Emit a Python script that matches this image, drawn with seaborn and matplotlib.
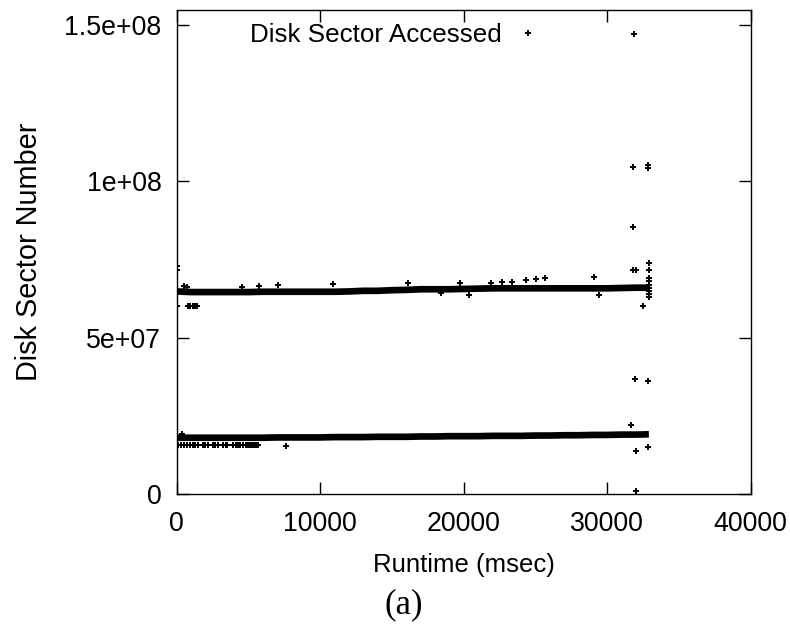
import matplotlib
matplotlib.use("Agg")
import matplotlib.pyplot as plt
from matplotlib.lines import Line2D
import seaborn as sns
import pandas as pd

# ---------------- data (sector numbers in millions) ----------------
band_time = [0, 1000, 2000, 3000, 4000, 5000, 6000, 7000, 8000, 9000, 10000,
             11000, 12000, 13000, 14000, 15000, 16000, 17000, 18000, 19000,
             20000, 21000, 22000, 23000, 24000, 25000, 26000, 27000, 28000,
             29000, 30000, 31000, 32000, 32900]
upper_band = [64.8, 64.6, 64.6, 64.6, 64.6, 64.6, 64.7, 64.7, 64.7, 64.7, 64.7,
              64.7, 64.8, 65.0, 65.0, 65.2, 65.3, 65.5, 65.5, 65.5,
              65.6, 65.7, 65.8, 65.8, 65.8, 65.8, 65.8, 65.8, 65.8,
              65.8, 65.8, 65.9, 66.0, 66.0]
lower_band = [18.0, 18.0, 18.0, 18.0, 18.0, 18.0, 18.0, 18.1, 18.1, 18.1, 18.1,
              18.2, 18.2, 18.2, 18.3, 18.3, 18.3, 18.4, 18.4, 18.5,
              18.5, 18.5, 18.6, 18.6, 18.6, 18.7, 18.7, 18.8, 18.8,
              18.9, 18.9, 19.0, 19.0, 19.1]

scatter_time = [
    # near the upper band
    0, 0, 0, 500, 700, 800, 950, 1100, 1250, 1400,
    4530, 5760, 7040, 10870, 16140, 18420, 19740, 20390, 21900, 22650,
    23350, 24320, 25020, 25670, 29100, 29450, 31820, 31990, 32520,
    32900, 32900, 32900, 32900, 32900, 32900, 32900, 32900, 32900,
    # near the lower band
    350, 100, 300, 500, 700, 900, 1150, 1300, 1450, 1850, 2000, 2150,
    2550, 2700, 2850, 3250, 3400, 3500, 3950, 4100, 4250, 4400,
    4650, 4800, 4950, 5100, 5250, 5400, 5550, 5650, 7600,
    # far outliers
    31870, 31780, 32860, 32860, 31780, 31640, 31940, 32860, 31990,
    32860, 31990,
]
scatter_sector = [
    72.8, 71.8, 60.2, 66.4, 66.2, 60.0, 60.0, 60.0, 60.0, 60.0,
    66.1, 66.6, 66.9, 67.2, 67.4, 64.2, 67.6, 63.7, 67.6, 67.9,
    67.9, 68.5, 68.7, 69.0, 69.3, 63.7, 71.7, 71.7, 60.3,
    74.0, 71.7, 69.0, 68.0, 67.0, 66.0, 65.0, 64.0, 63.0,
    19.3, 15.7, 15.7, 15.7, 15.7, 15.7, 15.7, 15.7, 15.7, 15.7, 15.7, 15.7,
    15.7, 15.7, 15.7, 15.7, 15.7, 15.7, 15.7, 15.7, 15.7, 15.7,
    15.7, 15.7, 15.7, 15.7, 15.7, 15.7, 15.7, 15.7, 15.5,
    147.2, 104.6, 105.3, 104.3, 85.4, 22.1, 36.7, 36.3, 13.8,
    15.1, 1.1,
]

x_ticks = [0, 10000, 20000, 30000, 40000]
y_ticks = [0, 5e7, 1e8, 1.5e8]
y_tick_labels = ["0", "5e+07", "1e+08", "1.5e+08"]

series_label = "Disk Sector Accessed"
x_label = "Runtime (msec)"
y_label = "Disk Sector Number"
caption = "(a)"

# ---------------- plotting ----------------
sns.set_style("ticks")
plt.rcParams["font.family"] = ["Liberation Sans", "DejaVu Sans"]
for key in ["text.color", "axes.labelcolor", "xtick.color", "ytick.color",
            "xtick.labelcolor", "ytick.labelcolor", "axes.edgecolor"]:
    plt.rcParams[key] = "black"

bands = pd.DataFrame({
    "t": band_time,
    "upper": [v * 1e6 for v in upper_band],
    "lower": [v * 1e6 for v in lower_band],
})
pts = pd.DataFrame({"t": scatter_time, "s": [v * 1e6 for v in scatter_sector]})

fig = plt.figure(figsize=(7.9, 6.25), dpi=100)
ax = fig.add_axes([0.2237, 0.2096, 0.7266, 0.7752])

band_lw = 4.8
for col in ["upper", "lower"]:
    sns.lineplot(data=bands, x="t", y=col, ax=ax, color="black",
                 linewidth=band_lw, solid_capstyle="butt", legend=False)

ax.scatter(pts["t"], pts["s"], marker="+", s=4.3 ** 2, color="black",
           linewidths=1.4, zorder=3)

ax.set_xlim(0, 40000)
ax.set_ylim(0, 1.55e8)
ax.set_xticks(x_ticks)
ax.set_xticklabels([str(v) for v in x_ticks])
ax.set_yticks(y_ticks)
ax.set_yticklabels(y_tick_labels)

for sp in ax.spines.values():
    sp.set_visible(True)
    sp.set_linewidth(1.0)
    sp.set_color("black")

ax.tick_params(axis="both", which="major", direction="in", length=8.5,
               width=1.0, top=True, right=True, labelsize=19.3,
               colors="black", labelcolor="black")
ax.tick_params(axis="x", pad=12)
ax.tick_params(axis="y", pad=11)

ax.set_xlabel(x_label, fontsize=18.5, labelpad=12, color="black")
ax.set_ylabel(y_label, fontsize=20.8, labelpad=15, color="black")

handle = Line2D([], [], marker="+", linestyle="none", color="black",
                markersize=4.3, markeredgewidth=1.4, label=series_label)
leg = ax.legend(handles=[handle], loc="center left",
                bbox_to_anchor=(0.128, 0.947), markerfirst=False,
                frameon=False, fontsize=18.7, borderpad=0, borderaxespad=0,
                handlelength=1.4, handletextpad=0.3, labelcolor="black")

fig.text(0.511, 0.032, caption, ha="center", va="center", fontsize=25,
         color="black", family=["Liberation Serif", "DejaVu Serif"])

fig.savefig("out.png", dpi=100, facecolor="white")
